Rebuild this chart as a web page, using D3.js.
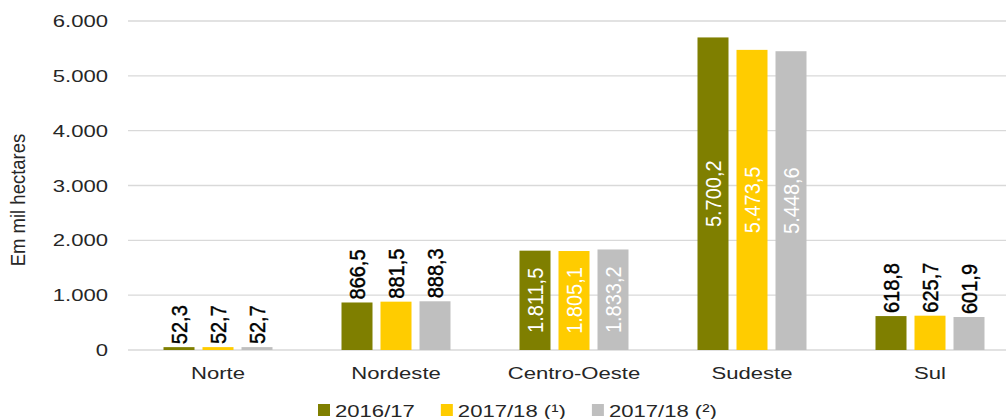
<!DOCTYPE html>
<html>
<head>
<meta charset="utf-8">
<script src="https://cdn.jsdelivr.net/npm/d3@7"></script>
<style>
  body { margin: 0; background: #fff; }
  text { font-family: "Liberation Sans", Arial, sans-serif; }
</style>
</head>
<body>
<div id="chart"></div>
<script>
const categories = ["Norte", "Nordeste", "Centro-Oeste", "Sudeste", "Sul"];
const seriesNames = ["2016/17", "2017/18 (¹)", "2017/18 (²)"];
const safra1617 = [52.3, 866.5, 1811.5, 5700.2, 618.8];
const safra1718a = [52.7, 881.5, 1805.1, 5473.5, 625.7];
const safra1718b = [52.7, 888.3, 1833.2, 5448.6, 601.9];
const yTicks = [0, 1000, 2000, 3000, 4000, 5000, 6000];

const width = 1006;
const height = 419;
const colors = ["#7f7f00", "#ffcc00", "#bfbfbf"];
const sx = 1.3; // text in the source is stretched sideways

const br = d3.formatLocale({ decimal: ",", thousands: ".", grouping: [3], currency: ["R$", ""] });
const fmtVal = br.format(",.1f");
const fmtTick = br.format(",.0f");

const seriesValues = [safra1617, safra1718a, safra1718b];

const svg = d3.select("#chart")
    .append("svg")
    .attr("width", width)
    .attr("height", height);

const y = d3.scaleLinear()
    .domain([0, 6000])
    .range([350, 21]);

const x0 = d3.scaleBand()
    .domain(categories)
    .range([129, 1019])
    .padding(0);

// bars inside each group: width 31, step 39
const x1 = d3.scaleBand()
    .domain(seriesNames)
    .range([30.5, 147.5])
    .paddingInner(8 / 39)
    .paddingOuter(4 / 39);

// gridlines
svg.selectAll("line.grid")
    .data(yTicks)
    .join("line")
    .attr("class", "grid")
    .attr("x1", 128)
    .attr("x2", width)
    .attr("y1", d => y(d))
    .attr("y2", d => y(d))
    .attr("stroke", "#d9d9d9")
    .attr("stroke-width", 1.3);

// y tick labels
svg.selectAll("text.tick")
    .data(yTicks)
    .join("text")
    .attr("class", "tick")
    .attr("transform", d => `translate(108,${y(d)}) scale(${sx},1)`)
    .attr("dy", "0.36em")
    .attr("text-anchor", "end")
    .attr("font-size", "17px")
    .attr("fill", "#262626")
    .text(d => fmtTick(d));

// y axis title
svg.append("text")
    .attr("transform", "translate(25,200) scale(1.05,1) rotate(-90)")
    .attr("text-anchor", "middle")
    .attr("font-size", "18.5px")
    .attr("fill", "#262626")
    .text("Em mil hectares");

// bars + labels
const rows = categories.map((c, i) => ({
    category: c,
    values: seriesNames.map((s, j) => ({ series: s, idx: j, value: seriesValues[j][i] }))
}));

const groups = svg.selectAll("g.cat")
    .data(rows)
    .join("g")
    .attr("class", "cat")
    .attr("transform", d => `translate(${x0(d.category)},0)`);

groups.selectAll("rect")
    .data(d => d.values)
    .join("rect")
    .attr("x", d => x1(d.series))
    .attr("width", x1.bandwidth())
    .attr("y", d => y(d.value))
    .attr("height", d => y(0) - y(d.value))
    .attr("fill", d => colors[d.idx]);

groups.selectAll("text.val")
    .data(d => d.values)
    .join("text")
    .attr("class", "val")
    .attr("transform", d => {
        const cx = x1(d.series) + x1.bandwidth() / 2;
        const inside = d.value > 1500;
        const cy = inside ? (y(d.value) + y(0)) / 2 : y(d.value) - 3;
        return `translate(${cx},${cy}) scale(1.12,1) rotate(-90)`;
    })
    .attr("text-anchor", d => d.value > 1500 ? "middle" : "start")
    .attr("dy", "0.36em")
    .attr("font-size", "20px")
    .attr("stroke", d => d.value > 1500 ? "none" : "#000")
    .attr("stroke-width", 0.4)
    .attr("fill", d => d.value > 1500 ? "#ffffff" : "#000000")
    .text(d => fmtVal(d.value));

// category labels
svg.selectAll("text.cat")
    .data(categories)
    .join("text")
    .attr("class", "cat")
    .attr("transform", d => `translate(${x0(d) + x0.bandwidth() / 2},379) scale(${sx},1)`)
    .attr("text-anchor", "middle")
    .attr("font-size", "17px")
    .attr("fill", "#262626")
    .text(d => d);

// legend
const legend = svg.append("g");
let lx = 318;
seriesNames.forEach((s, i) => {
    legend.append("rect")
        .attr("x", lx)
        .attr("y", 404)
        .attr("width", 12)
        .attr("height", 12)
        .attr("fill", colors[i]);
    const t = legend.append("text")
        .attr("transform", `translate(${lx + 17},417) scale(${sx},1)`)
        .attr("font-size", "17px")
        .attr("fill", "#262626")
        .text(s);
    const w = t.node().getComputedTextLength() * sx;
    lx += 17 + w + 26;
});
</script>
</body>
</html>
